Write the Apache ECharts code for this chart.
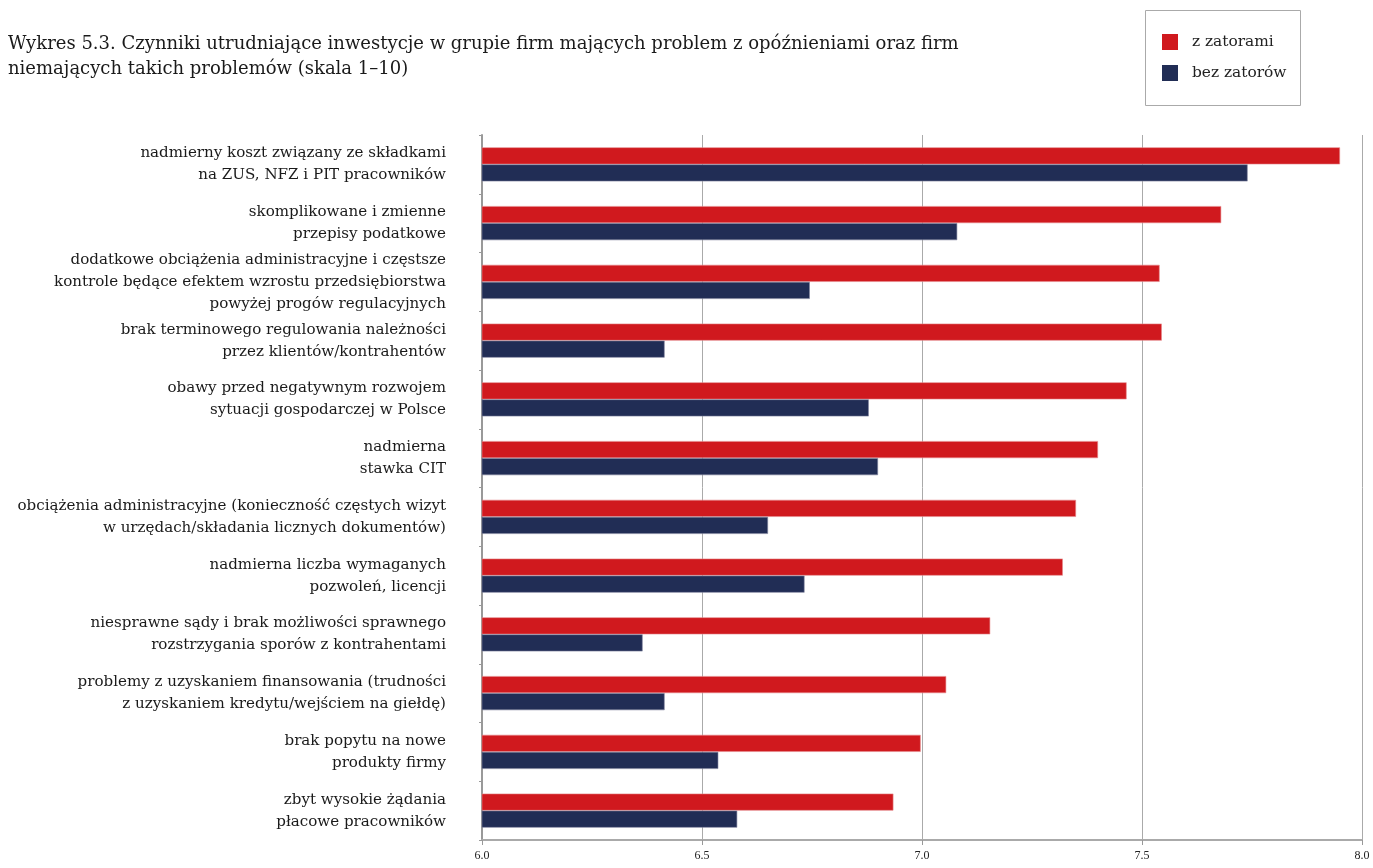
<!DOCTYPE html>
<html>
<head>
<meta charset="utf-8">
<script src="https://cdn.jsdelivr.net/npm/echarts@6/dist/echarts.min.js"></script>
<style>
html,body{margin:0;padding:0;background:#fff;}
#chart{width:1373px;height:868px;}
</style>
</head>
<body>
<div id="chart"></div>
<script>
var categories = [
  "nadmierny koszt związany ze składkami\nna ZUS, NFZ i PIT pracowników",
  "skomplikowane i zmienne\nprzepisy podatkowe",
  "dodatkowe obciążenia administracyjne i częstsze\nkontrole będące efektem wzrostu przedsiębiorstwa\npowyżej progów regulacyjnych",
  "brak terminowego regulowania należności\nprzez klientów/kontrahentów",
  "obawy przed negatywnym rozwojem\nsytuacji gospodarczej w Polsce",
  "nadmierna\nstawka CIT",
  "obciążenia administracyjne (konieczność częstych wizyt\nw urzędach/składania licznych dokumentów)",
  "nadmierna liczba wymaganych\npozwoleń, licencji",
  "niesprawne sądy i brak możliwości sprawnego\nrozstrzygania sporów z kontrahentami",
  "problemy z uzyskaniem finansowania (trudności\nz uzyskaniem kredytu/wejściem na giełdę)",
  "brak popytu na nowe\nprodukty firmy",
  "zbyt wysokie żądania\npłacowe pracowników"
];
var seriesNames = ["z zatorami", "bez zatorów"];
var zZatorami = [7.95, 7.68, 7.54, 7.545, 7.465, 7.40, 7.35, 7.32, 7.155, 7.055, 6.997, 6.935];
var bezZatorow = [7.74, 7.08, 6.745, 6.415, 6.879, 6.90, 6.65, 6.733, 6.365, 6.415, 6.537, 6.58];
var xTicks = [6.0, 6.5, 7.0, 7.5, 8.0];

var chart = echarts.init(document.getElementById('chart'), null, {renderer: 'canvas'});
var serif = '"DejaVu Serif", "Liberation Serif", serif';
var serifNarrow = '"Liberation Serif", serif';
var option = {
  backgroundColor: '#fff',
  animation: false,
  title: {
    text: 'Wykres 5.3. Czynniki utrudniające inwestycje w grupie firm mających problem z opóźnieniami oraz firm\nniemających takich problemów (skala 1–10)',
    left: 3, top: 27,
    textStyle: {fontFamily: serif, fontSize: 18, fontWeight: 'normal', color: '#1a1a1a', lineHeight: 25}
  },
  graphic: [{
    type: 'rect', silent: true,
    shape: {x: 1145.5, y: 10.5, width: 155, height: 95},
    style: {fill: 'none', stroke: '#aaa', lineWidth: 1}
  }],
  legend: {
    orient: 'vertical', left: 1162, top: 34, padding: 0,
    itemWidth: 16, itemHeight: 16, itemGap: 15,
    icon: 'rect',
    itemStyle: {borderWidth: 0},
    data: seriesNames,
    textStyle: {fontFamily: serif, fontSize: 15.4, color: '#222', padding: [0,0,0,9]}
  },
  grid: {left: 482, right: 11, top: 135, bottom: 28, containLabel: false},
  xAxis: {
    type: 'value', min: 6, max: 8, interval: 0.5,
    axisLine: {show: true, lineStyle: {color: '#aaa', width: 2}},
    axisTick: {show: true, length: 5, lineStyle: {color: '#999'}},
    splitLine: {show: true, lineStyle: {color: '#aaa', width: 1}},
    axisLabel: {
      margin: 10, fontFamily: serifNarrow, fontSize: 12, color: '#222',
      formatter: function (v) { return xTicks.indexOf(v) >= 0 ? v.toFixed(1) : ''; }
    }
  },
  yAxis: {
    type: 'category', inverse: true, data: categories,
    axisLine: {show: true, lineStyle: {color: '#999', width: 2}},
    axisTick: {show: true, length: 3, lineStyle: {color: '#999'}},
    axisLabel: {margin: 36, fontFamily: serif, fontSize: 15.1, color: '#1a1a1a', lineHeight: 22, align: 'right'}
  },
  series: [
    {name: seriesNames[0], type: 'bar', data: zZatorami, barGap: '0%', barCategoryGap: '42%',
     itemStyle: {color: '#d0191e', borderColor: '#e58a8c', borderWidth: 0.6}},
    {name: seriesNames[1], type: 'bar', data: bezZatorow, barGap: '0%', barCategoryGap: '42%',
     itemStyle: {color: '#212d55', borderColor: '#7d829c', borderWidth: 0.6}}
  ]
};
chart.setOption(option);
</script>
</body>
</html>
